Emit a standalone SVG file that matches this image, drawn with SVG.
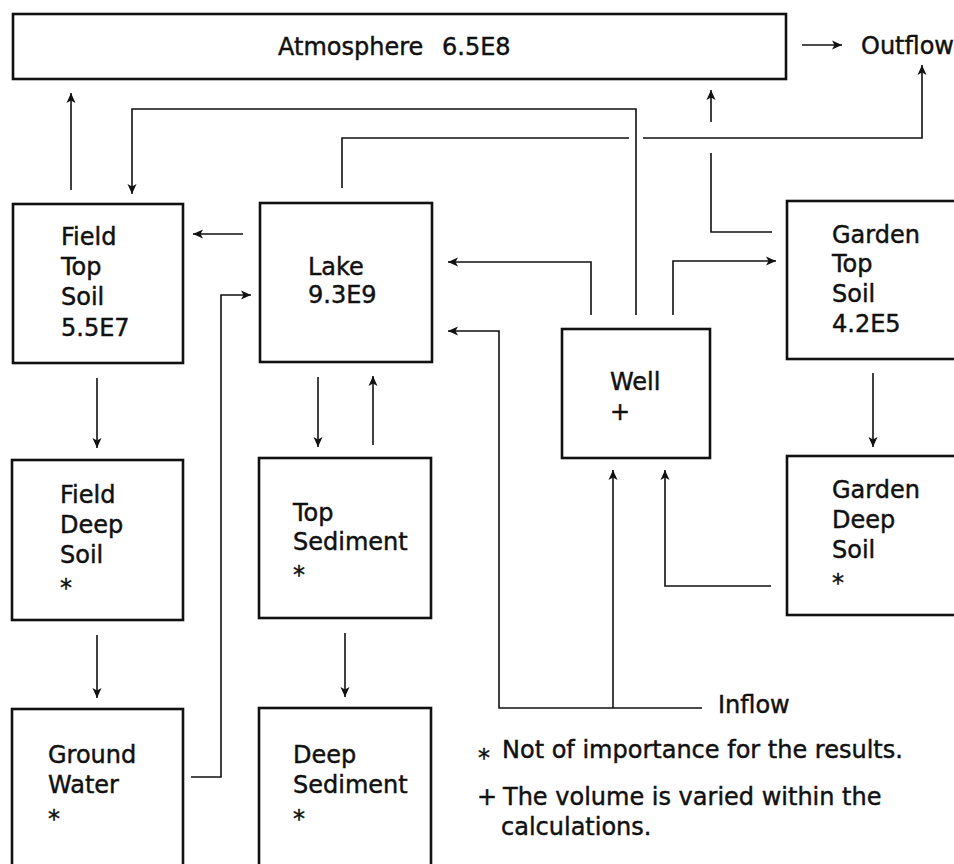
<svg xmlns="http://www.w3.org/2000/svg" width="954" height="864" viewBox="0 0 954 864">
<style>
.box{fill:#fff;stroke:#111;stroke-width:2.6}
.t{font-family:"DejaVu Sans","Liberation Sans",sans-serif;font-size:24px;fill:#111;stroke:#111;stroke-width:0.45}
.c{fill:none;stroke:#111;stroke-width:1.6}
</style>
<defs>
<marker id="ah" viewBox="-11 -5 11 10" refX="0" refY="0" markerWidth="11" markerHeight="10" markerUnits="userSpaceOnUse" orient="auto">
<path d="M-10,-4.5 L0,0 L-10,4.5 L-7.5,0 z" fill="#111"/>
</marker>
</defs>
<rect width="954" height="864" fill="#fff"/>
<g id="connectors">
<path class="c" d="M71,190 V93" marker-end="url(#ah)"/>
<path class="c" d="M636,315 V109 H132 V194" marker-end="url(#ah)"/>
<path class="c" d="M342,188 V138 H629"/>
<path class="c" d="M643,138 H922 V65" marker-end="url(#ah)"/>
<path class="c" d="M802,45 H842" marker-end="url(#ah)"/>
<path class="c" d="M772,232 H711 V153"/>
<path class="c" d="M711,122 V90" marker-end="url(#ah)"/>
<path class="c" d="M243,234 H193" marker-end="url(#ah)"/>
<path class="c" d="M591,315 V262 H448" marker-end="url(#ah)"/>
<path class="c" d="M673,315 V261 H776" marker-end="url(#ah)"/>
<path class="c" d="M702,708 H499 V331 H448" marker-end="url(#ah)"/>
<path class="c" d="M613,708 V470" marker-end="url(#ah)"/>
<path class="c" d="M771,586 H665 V470" marker-end="url(#ah)"/>
<path class="c" d="M191,777 H221 V295 H251" marker-end="url(#ah)"/>
<path class="c" d="M97,378 V448" marker-end="url(#ah)"/>
<path class="c" d="M97,635 V698" marker-end="url(#ah)"/>
<path class="c" d="M318,377 V447" marker-end="url(#ah)"/>
<path class="c" d="M373,445 V376" marker-end="url(#ah)"/>
<path class="c" d="M345,633 V697" marker-end="url(#ah)"/>
<path class="c" d="M873,373 V447" marker-end="url(#ah)"/>
</g>
<g id="atmosphere">
<rect class="box" x="13" y="14" width="773" height="65"/>
<text class="t" x="278" y="55">Atmosphere</text>
<text class="t" x="442" y="55">6.5E8</text>
</g>
<g id="outflow"><text class="t" x="861" y="54">Outflow</text></g>
<g id="field-top-soil">
<rect class="box" x="13" y="204" width="170" height="159"/>
<text class="t" x="61" y="245">Field</text>
<text class="t" x="61" y="275">Top</text>
<text class="t" x="61" y="305">Soil</text>
<text class="t" x="61" y="336">5.5E7</text>
</g>
<g id="lake">
<rect class="box" x="260" y="203" width="172" height="159"/>
<text class="t" x="308" y="275">Lake</text>
<text class="t" x="308" y="303">9.3E9</text>
</g>
<g id="well">
<rect class="box" x="562" y="329" width="148" height="129"/>
<text class="t" x="610" y="390">Well</text>
<text class="t" x="610" y="420">+</text>
</g>
<g id="garden-top-soil">
<rect class="box" x="787" y="201" width="175" height="158"/>
<text class="t" x="832" y="243">Garden</text>
<text class="t" x="832" y="272">Top</text>
<text class="t" x="832" y="302">Soil</text>
<text class="t" x="832" y="332">4.2E5</text>
</g>
<g id="field-deep-soil">
<rect class="box" x="12" y="460" width="171" height="160"/>
<text class="t" x="60" y="503">Field</text>
<text class="t" x="60" y="533">Deep</text>
<text class="t" x="60" y="563">Soil</text>
<text class="t" x="60" y="596" font-size="28">*</text>
</g>
<g id="top-sediment">
<rect class="box" x="259" y="458" width="172" height="160"/>
<text class="t" x="293" y="521">Top</text>
<text class="t" x="293" y="550">Sediment</text>
<text class="t" x="293" y="583" font-size="28">*</text>
</g>
<g id="garden-deep-soil">
<rect class="box" x="787" y="456" width="175" height="159"/>
<text class="t" x="832" y="498">Garden</text>
<text class="t" x="832" y="528">Deep</text>
<text class="t" x="832" y="558">Soil</text>
<text class="t" x="832" y="591" font-size="28">*</text>
</g>
<g id="ground-water">
<rect class="box" x="12" y="709" width="171" height="170"/>
<text class="t" x="48" y="763">Ground</text>
<text class="t" x="48" y="793">Water</text>
<text class="t" x="48" y="827" font-size="28">*</text>
</g>
<g id="deep-sediment">
<rect class="box" x="259" y="708" width="172" height="170"/>
<text class="t" x="293" y="763">Deep</text>
<text class="t" x="293" y="793">Sediment</text>
<text class="t" x="293" y="827" font-size="28">*</text>
</g>
<g id="inflow"><text class="t" x="718" y="713">Inflow</text></g>
<g id="legend">
<text class="t" x="478" y="766">*</text>
<text class="t" x="502" y="758">Not of importance for the results.</text>
<text class="t" x="477" y="805">+</text>
<text class="t" x="503" y="805">The volume is varied within the</text>
<text class="t" x="501" y="835">calculations.</text>
</g>
</svg>
